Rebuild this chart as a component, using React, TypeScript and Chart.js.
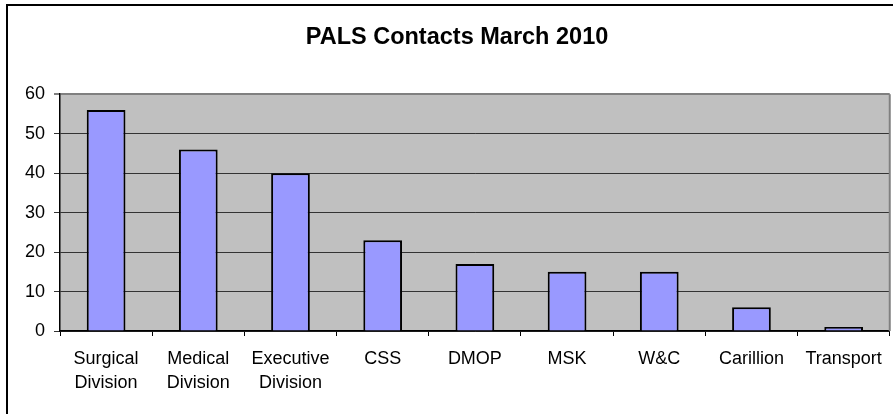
import React, { useEffect, useRef } from "react";
import { Chart, registerables } from "chart.js";

Chart.register(...registerables);

const categories: (string | string[])[] = [
  ["Surgical", "Division"],
  ["Medical", "Division"],
  ["Executive", "Division"],
  "CSS",
  "DMOP",
  "MSK",
  "W&C",
  "Carillion",
  "Transport",
];
const contacts: number[] = [56, 46, 40, 23, 17, 15, 15, 6, 1];
const chartTitle = "PALS Contacts March 2010";
const yMin = 0;
const yMax = 60;
const yStep = 10;

const FONT = "'Liberation Sans', Arial, Helvetica, sans-serif";

const decorPlugin = {
  id: "decor",
  beforeDraw(chart: any) {
    const { ctx, chartArea: a } = chart;
    ctx.save();
    ctx.fillStyle = "#ffffff";
    ctx.fillRect(0, 0, chart.width, chart.height);
    ctx.fillStyle = "#C0C0C0";
    ctx.fillRect(a.left, a.top, a.right - a.left, a.bottom - a.top);
    ctx.restore();
  },
  afterDraw(chart: any) {
    const { ctx, chartArea: a } = chart;
    ctx.save();
    ctx.strokeStyle = "#808080";
    ctx.lineWidth = 2;
    ctx.beginPath();
    ctx.moveTo(a.right, a.top);
    ctx.lineTo(a.right, a.bottom);
    ctx.stroke();
    ctx.strokeStyle = "#000000";
    ctx.lineWidth = 2;
    ctx.beginPath();
    ctx.moveTo(7, chart.height + 2);
    ctx.lineTo(7, 5);
    ctx.lineTo(chart.width + 2, 5);
    ctx.stroke();
    ctx.restore();
  },
};

export default function App() {
  const ref = useRef<HTMLCanvasElement | null>(null);

  useEffect(() => {
    document.body.style.margin = "0";
    const canvas = ref.current;
    if (!canvas) return;
    const chart = new Chart(canvas, {
      type: "bar",
      data: {
        labels: categories,
        datasets: [
          {
            label: "Contacts",
            data: contacts,
            backgroundColor: "#9999FF",
            borderColor: "#000000",
            borderWidth: 2,
            categoryPercentage: 1,
            barPercentage: 0.42,
          },
        ],
      },
      options: {
        responsive: false,
        animation: false,
        devicePixelRatio: 1,
        layout: { padding: { left: 24, right: 3, top: 0, bottom: 0 } },
        plugins: {
          legend: { display: false },
          tooltip: { enabled: false },
          title: {
            display: true,
            text: chartTitle,
            color: "#000000",
            font: { family: FONT, size: 23.5, weight: "bold", lineHeight: 1.2 },
            padding: { top: 23, bottom: 43 },
          },
        },
        scales: {
          x: {
            afterFit(scale: any) {
              scale.height = 83;
            },
            grid: {
              offset: true,
              drawOnChartArea: false,
              drawTicks: true,
              tickLength: 5,
              color: "#000000",
            },
            border: { display: true, color: "#000000", width: 1.5 },
            ticks: {
              color: "#000000",
              padding: 11,
              maxRotation: 0,
              autoSkip: false,
              font: { family: FONT, size: 18, lineHeight: 1.35 },
            },
          },
          y: {
            min: yMin,
            max: yMax,
            afterFit(scale: any) {
              scale.width = 36;
            },
            grid: {
              color: (c: any) => (c.tick && c.tick.value === yMax ? "#808080" : "#333333"),
              lineWidth: (c: any) => (c.tick && c.tick.value === yMax ? 2 : 1),
              drawTicks: true,
              tickLength: 6,
            },
            border: { display: true, color: "#000000", width: 1.5 },
            ticks: {
              stepSize: yStep,
              color: "#000000",
              padding: 9,
              font: { family: FONT, size: 18 },
            },
          },
        },
      },
      plugins: [decorPlugin],
    });
    return () => chart.destroy();
  }, []);

  return (
    <div style={{ width: 893, height: 414 }}>
      <canvas ref={ref} width={893} height={414} style={{ display: "block" }} />
    </div>
  );
}
